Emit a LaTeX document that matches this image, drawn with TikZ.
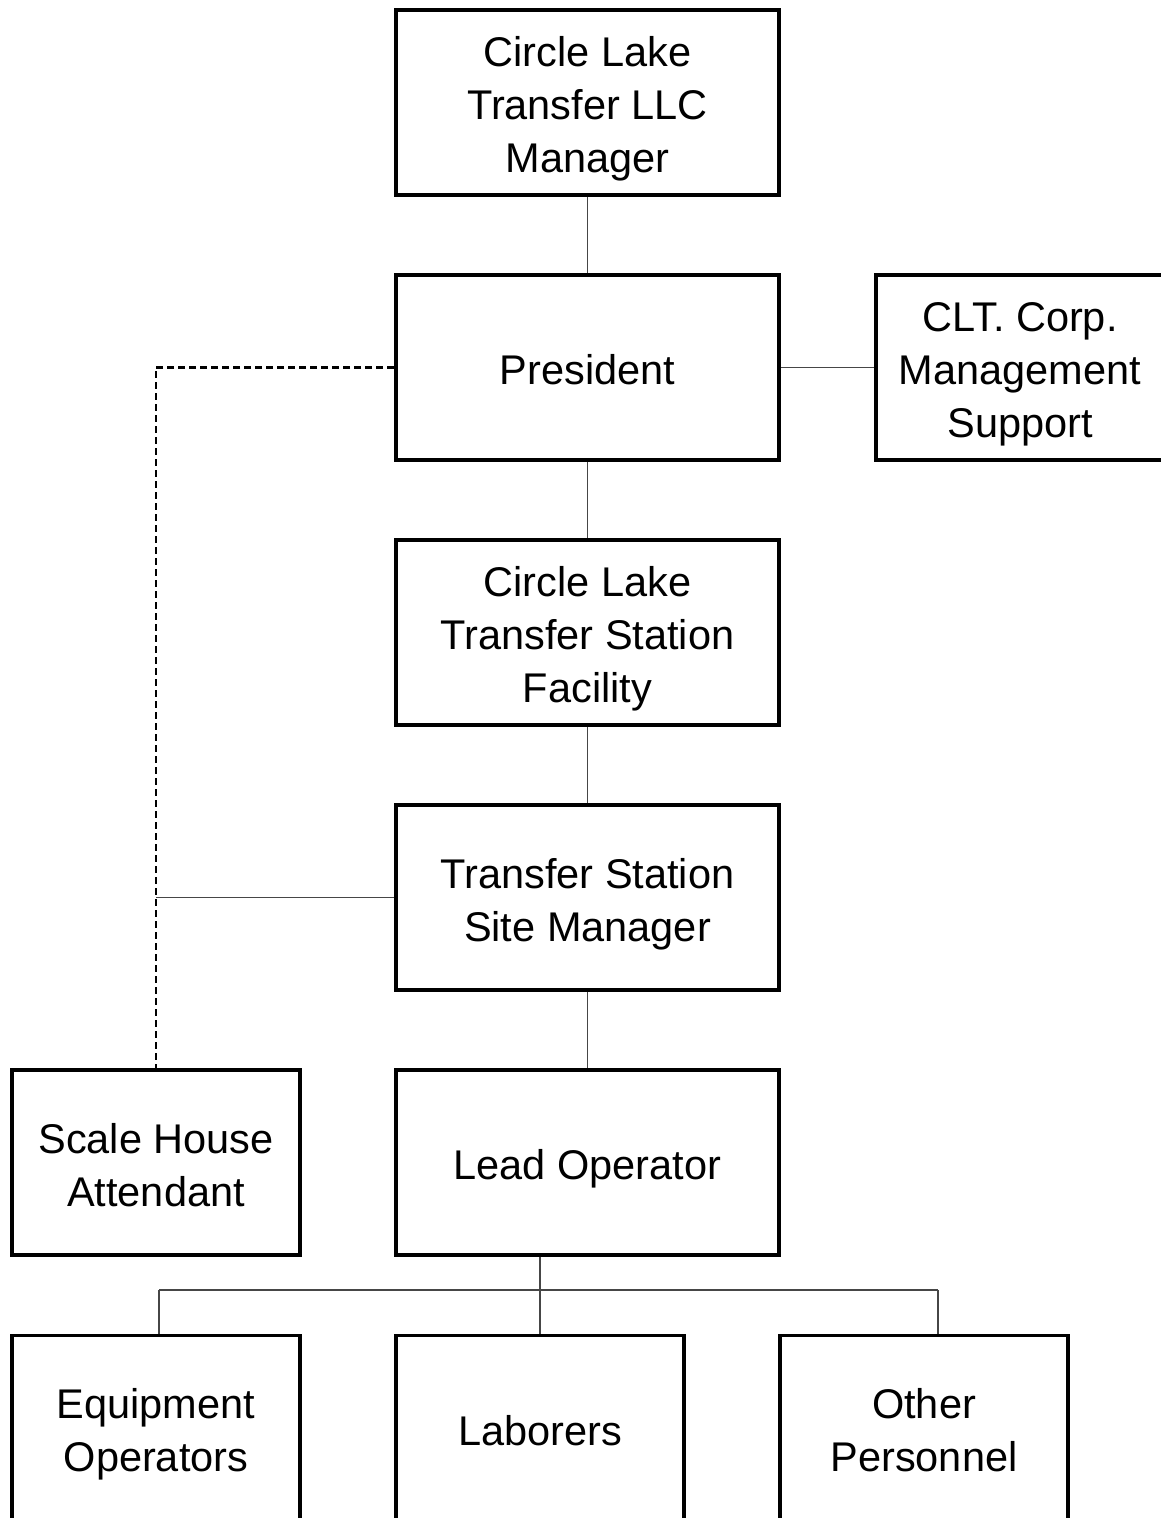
\documentclass[tikz,border=0pt]{standalone}
\usepackage{fontspec}
\setmainfont{Liberation Sans}
\definecolor{linegray}{RGB}{70,70,70}
\newcommand\tstrut{\rule{0pt}{44pt}}
\newcommand\bstrut{\rule[-10pt]{0pt}{0pt}}
\begin{document}
\begin{tikzpicture}[x=1pt,y=-1pt,
  box/.style={draw=black, line width=3.8pt, rectangle, align=center,
    minimum width=383pt, minimum height=185pt, inner sep=0pt,
    font=\fontsize{41.5}{53}\selectfont},
  smallbox/.style={box, minimum width=288pt},
  conn/.style={draw=linegray, line width=1.5pt},
  dashconn/.style={draw=black, line width=2.1pt, dash pattern=on 7pt off 4pt}]
\useasboundingbox (0,0) rectangle (1161,1518);
\fill[white] (0,0) rectangle (1161,1518);
% nodes
\node[box] (top) at (587.5,102.5) {\tstrut Circle Lake\\Transfer LLC\\Manager\bstrut};
\node[box] (pres) at (587.5,367.5) {\tstrut President\bstrut};
\node[smallbox] (clt) at (1020,367.5) {\tstrut CLT. Corp.\\Management\\Support\bstrut};
\node[box] (fac) at (587.5,632.5) {\tstrut Circle Lake\\Transfer Station\\Facility\bstrut};
\node[box] (site) at (587.5,897.5) {\tstrut Transfer Station\\Site Manager\bstrut};
\node[smallbox] (scale) at (156,1162.5) {\tstrut Scale House\\Attendant\bstrut};
\node[box] (lead) at (587.5,1162.5) {\tstrut Lead Operator\bstrut};
\node[smallbox] (equip) at (156,1428) {\tstrut Equipment\\Operators\bstrut};
\node[smallbox] (lab) at (540,1428) {\tstrut Laborers\bstrut};
\node[smallbox] (other) at (924,1428) {\tstrut Other\\Personnel\bstrut};
% connectors
\draw[conn] (top.south) -- (pres.north);
\draw[conn] (pres.east) -- (clt.west);
\draw[conn] (pres.south) -- (fac.north);
\draw[conn] (fac.south) -- (site.north);
\draw[conn] (site.south) -- (lead.north);
\draw[dashconn] (pres.west) -| (scale.north);
\draw[conn] (site.west) -- (site.west -| scale.north);
\coordinate (busL) at (159,1290);
\coordinate (busR) at (938,1290);
\draw[conn] (lead.south -| lab.north) -- (lab.north);
\draw[conn] (busL) -- (busR);
\draw[conn] (busL) -- (busL |- equip.north);
\draw[conn] (busR) -- (busR |- other.north);
\end{tikzpicture}
\end{document}
